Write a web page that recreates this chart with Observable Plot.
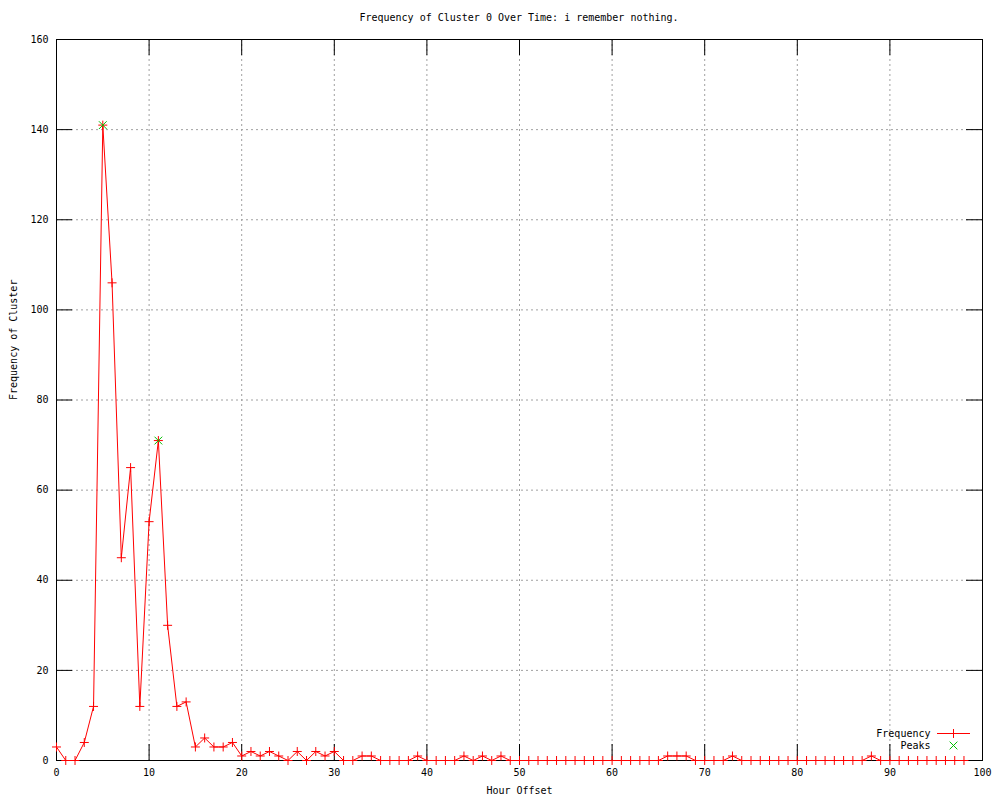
<!DOCTYPE html>
<html>
<head>
<meta charset="utf-8">
<script src="https://cdn.jsdelivr.net/npm/d3@7"></script>
<script src="https://cdn.jsdelivr.net/npm/@observablehq/plot@0.6"></script>
<style>
  html, body { margin: 0; padding: 0; background: #fff; }
  #title {
    box-sizing: border-box; width: 1000px; height: 30px;
    padding: 12px 18px 0 56px; line-height: 12px;
    text-align: center; font: 10px "DejaVu Sans Mono", monospace; color: #000;
  }
</style>
</head>
<body>
<div id="title">Frequency of Cluster 0 Over Time: i remember nothing.</div>
<div id="chart"></div>
<script>
const hours = [0,1,2,3,4,5,6,7,8,9,10,11,12,13,14,15,16,17,18,19,20,21,22,23,24,25,26,27,28,29,30,31,32,33,34,35,36,37,38,39,40,41,42,43,44,45,46,47,48,49,50,51,52,53,54,55,56,57,58,59,60,61,62,63,64,65,66,67,68,69,70,71,72,73,74,75,76,77,78,79,80,81,82,83,84,85,86,87,88,89,90,91,92,93,94,95,96,97,98];
const frequency = [3,0,0,4,12,141,106,45,65,12,53,71,30,12,13,3,5,3,3,4,1,2,1,2,1,0,2,0,2,1,2,0,0,1,1,0,0,0,0,1,0,0,0,0,1,0,1,0,1,0,0,0,0,0,0,0,0,0,0,0,0,0,0,0,0,0,1,1,1,0,0,0,0,1,0,0,0,0,0,0,0,0,0,0,0,0,0,0,1,0,0,0,0,0,0,0,0,0,0];
const peakHours = [5, 11];
const peakValues = [141, 71];
const xTicks = [0,10,20,30,40,50,60,70,80,90,100];
const yTicks = [0,20,40,60,80,100,120,140,160];
const seriesNames = ["Frequency", "Peaks"];

const freqData = hours.map((h, i) => ({hour: h, value: frequency[i]}));
const peakData = peakHours.map((h, i) => ({hour: h, value: peakValues[i]}));

const W = 1000, H = 770, mL = 56, mR = 18, mT = 9, mB = 40;
const innerW = W - mL - mR, innerH = H - mT - mB;
const tickLen = 16;
const gridStyle = {stroke: "#a0a0a0", strokeDasharray: "2,3", strokeWidth: 1};

const chart = Plot.plot({
  width: W, height: H,
  marginLeft: mL, marginRight: mR, marginTop: mT, marginBottom: mB,
  style: {fontFamily: "DejaVu Sans Mono", fontSize: "10px", background: "#fff", color: "#000"},
  x: {domain: [0, 100]},
  y: {domain: [0, 160]},
  marks: [
    Plot.ruleX(xTicks.filter(d => d > 0 && d < 100), gridStyle),
    Plot.ruleY(yTicks.filter(d => d > 0 && d < 160), gridStyle),
    Plot.ruleX(xTicks, {stroke: "#000", insetTop: innerH - tickLen}),
    Plot.ruleX(xTicks, {stroke: "#000", insetBottom: innerH - tickLen}),
    Plot.ruleY(yTicks, {stroke: "#000", insetRight: innerW - tickLen}),
    Plot.ruleY(yTicks, {stroke: "#000", insetLeft: innerW - tickLen}),
    Plot.frame({stroke: "#000"}),
    Plot.axisX(xTicks, {tickSize: 0, tickPadding: 8, label: null}),
    Plot.axisY(yTicks, {tickSize: 0, tickPadding: 8, label: null}),
    Plot.text(["Hour Offset"], {frameAnchor: "bottom", dy: 33}),
    Plot.text(["Frequency of Cluster"], {frameAnchor: "left", rotate: -90, dx: -43}),
    Plot.line(freqData, {x: "hour", y: "value", stroke: "#ff0000", strokeWidth: 1}),
    Plot.dot(freqData, {x: "hour", y: "value", symbol: "plus", stroke: "#ff0000", fill: "none", strokeWidth: 1, r: 3}),
    Plot.dot(peakData, {x: "hour", y: "value", symbol: "times", stroke: "#00c000", fill: "none", strokeWidth: 1, r: 3.6}),
    Plot.text([seriesNames[0]], {frameAnchor: "bottom-right", dx: -52, dy: -24, textAnchor: "end"}),
    Plot.text([seriesNames[1]], {frameAnchor: "bottom-right", dx: -52, dy: -12, textAnchor: "end"}),
    Plot.ruleY([0], {stroke: "#ff0000", strokeWidth: 1, dy: -27, insetLeft: innerW - 45, insetRight: 12}),
    Plot.dot([seriesNames[0]], {frameAnchor: "bottom-right", dx: -29, dy: -27, symbol: "plus", stroke: "#ff0000", fill: "none", strokeWidth: 1, r: 3}),
    Plot.dot([seriesNames[1]], {frameAnchor: "bottom-right", dx: -29, dy: -15, symbol: "times", stroke: "#00c000", fill: "none", strokeWidth: 1, r: 3.6})
  ]
});
document.getElementById("chart").appendChild(chart);
</script>
</body>
</html>
